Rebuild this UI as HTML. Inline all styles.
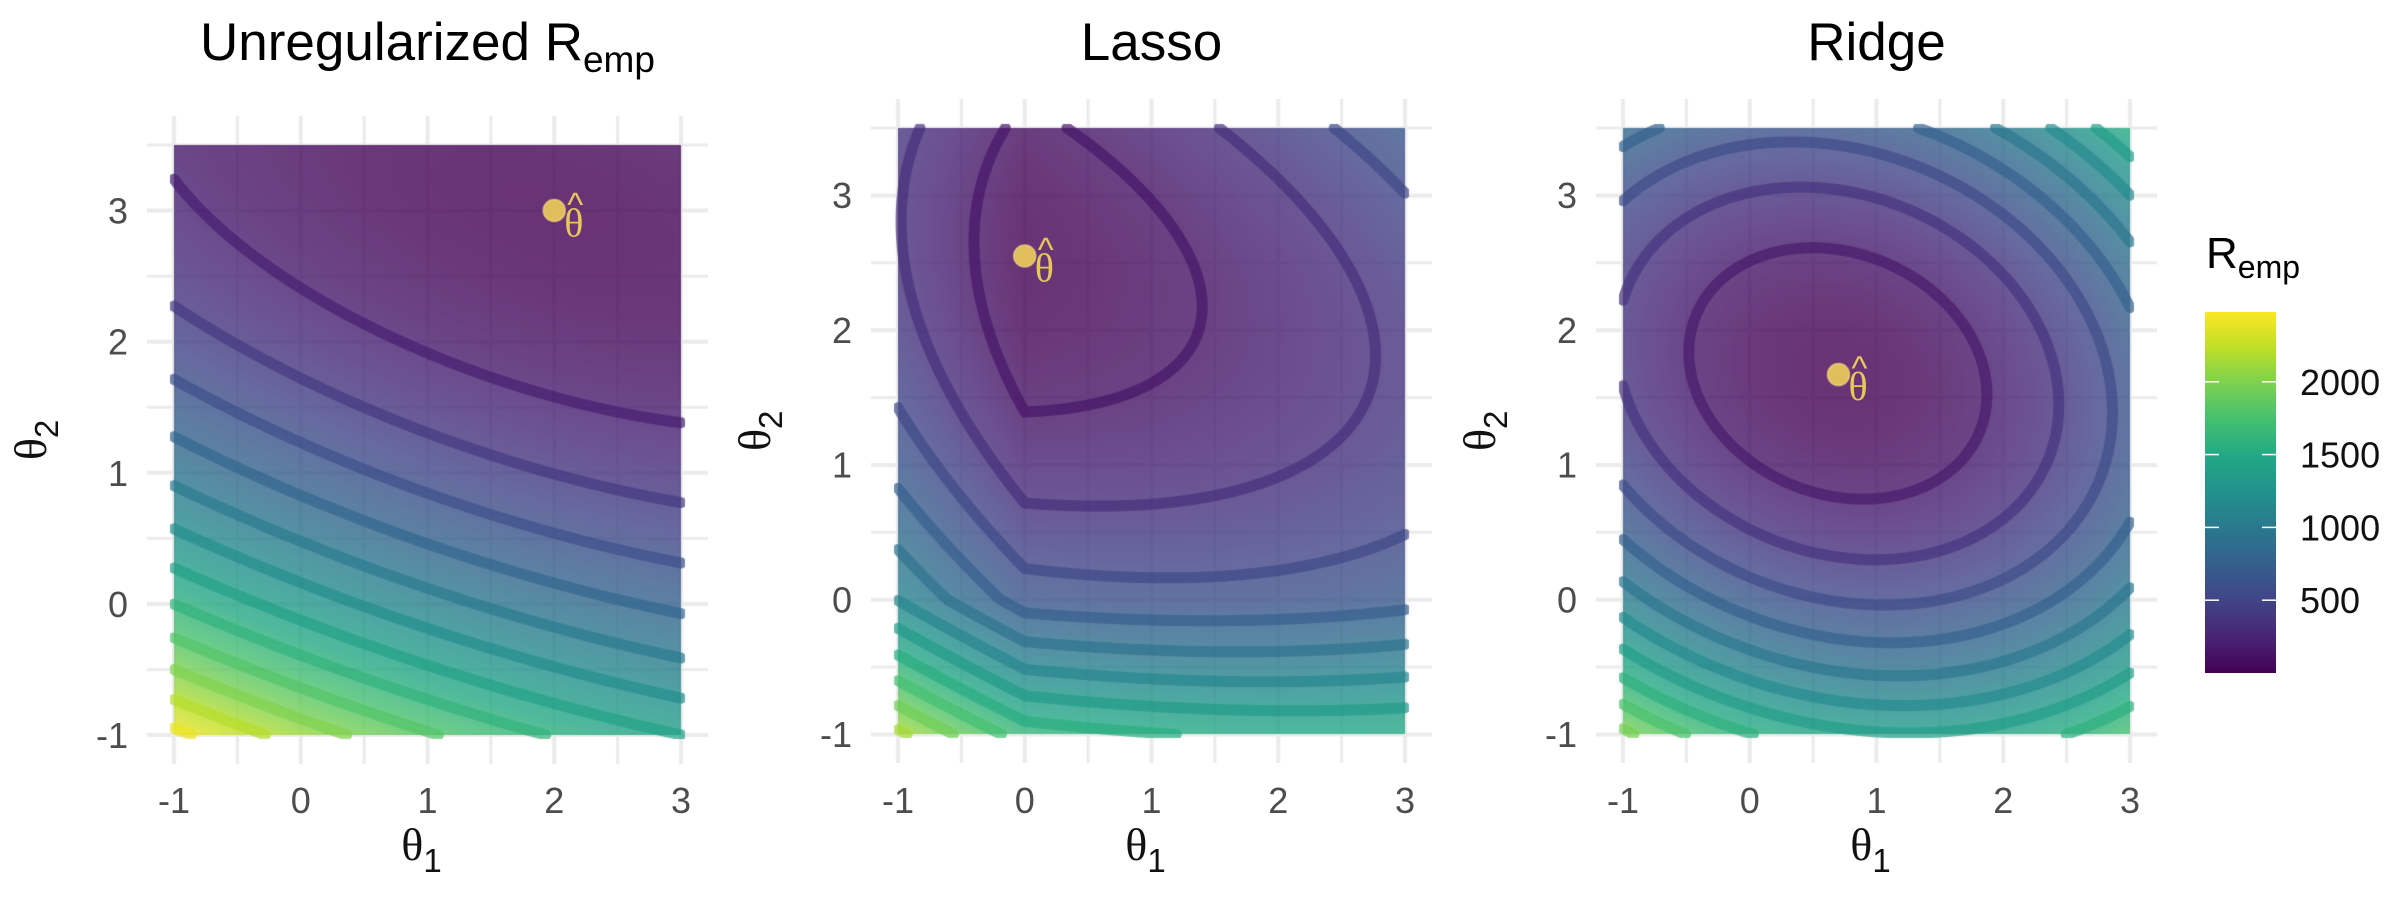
<!DOCTYPE html>
<html><head><meta charset="utf-8"><style>
html,body{margin:0;padding:0;background:#fff;}
#wrap{position:relative;width:2400px;height:900px;overflow:hidden;}
canvas{position:absolute;}
svg{position:absolute;left:0;top:0;}
</style></head><body>
<div id="wrap">
<canvas id="c0"></canvas>
<canvas id="c1"></canvas>
<canvas id="c2"></canvas>
<svg id="txt" width="2400" height="900"></svg>
</div>
<script>
// ---- data ----
const panelNames = ["Unregularized", "Lasso", "Ridge"];
const quadA = [25.8];          // coefficient of (θ1-c1)^2
const quadB = [52.7];          // coefficient of (θ1-c1)(θ2-c2)
const quadC = [99.1];          // coefficient of (θ2-c2)^2
const lsCenter = [2, 3];       // unregularized minimiser
const lassoLambda = [0, 195, 0];
const ridgeMu = [0, 0, 98.5];
const hatX = [2, 0, 0.7];
const hatY = [3, 2.55, 1.67];
const contourLevels = [200,400,600,800,1000,1200,1400,1600,1800,2000,2200,2400,2600,2800,3000,3200];
const xTicks = [-1, 0, 1, 2, 3];
const yTicks = [-1, 0, 1, 2, 3];
const legendTicks = [500, 1000, 1500, 2000];
const legendMax = [2479];
// ---- layout ----
const px0 = [174, 898, 1623], px1 = [681, 1405, 2130];
const py3 = [210.5, 195, 195], pym1 = [735, 734, 734];
const XMIN=-1, XMAX=3, YMIN=-1, YMAX=3.5, EXPX=27, EXPY=29;

const vir = ["#440154","#482475","#414487","#355f8d","#2a788e","#21918c","#22a884","#44bf70","#7ad151","#bddf26","#fde725"];
function hex(h){return [parseInt(h.substr(1,2),16),parseInt(h.substr(3,2),16),parseInt(h.substr(5,2),16)];}
const virRGB = vir.map(hex);
function viridis(t){t=Math.max(0,Math.min(1,t));const s=t*(virRGB.length-1);const i=Math.min(virRGB.length-2,Math.floor(s));const f=s-i;
 return virRGB[i].map((c,k)=>Math.round(c+(virRGB[i+1][k]-c)*f));}

function risk(p,t1,t2){const dx=t1-lsCenter[0],dy=t2-lsCenter[1];
 let v=quadA[0]*dx*dx+quadB[0]*dx*dy+quadC[0]*dy*dy;
 v+=lassoLambda[p]*(Math.abs(t1)+Math.abs(t2));
 v+=ridgeMu[p]*(t1*t1+t2*t2);return v;}

const svg=document.getElementById('txt');const NS="http://www.w3.org/2000/svg";
function T(x,y,str,attrs){const e=document.createElementNS(NS,'text');e.setAttribute('x',x);e.setAttribute('y',y);
 for(const k in attrs)e.setAttribute(k,attrs[k]);e.textContent=str;svg.appendChild(e);return e;}

for(let p=0;p<3;p++){
 const sx=(px1[p]-px0[p])/(XMAX-XMIN), sy=(pym1[p]-py3[p])/4;
 const X=v=>px0[p]+(v-XMIN)*sx, Y=v=>pym1[p]-(v-YMIN)*sy;
 const left=X(XMIN)-EXPX, top=Y(YMAX)-EXPY;
 const W=Math.round(X(XMAX)-X(XMIN)+2*EXPX), H=Math.round(Y(YMIN)-Y(YMAX)+2*EXPY);
 const cv=document.getElementById('c'+p);cv.width=W;cv.height=H;cv.style.left=left+'px';cv.style.top=top+'px';
 const ctx=cv.getContext('2d');
 const lx=v=>X(v)-left, ly=v=>Y(v)-top;
 // grid
 ctx.strokeStyle="#ebebeb";
 for(let g=-1;g<=3.001;g+=0.5){ctx.lineWidth=(Math.abs(g-Math.round(g))<1e-6)?4:3;ctx.beginPath();ctx.moveTo(lx(g),0);ctx.lineTo(lx(g),H);ctx.stroke();
  ctx.beginPath();ctx.moveTo(0,ly(g));ctx.lineTo(W,ly(g));ctx.stroke();}
 ctx.lineWidth=3;ctx.beginPath();ctx.moveTo(0,ly(3.5));ctx.lineTo(W,ly(3.5));ctx.stroke();
 let vmin=1e9;for(let a=XMIN;a<=XMAX;a+=0.02)for(let b=YMIN;b<=YMAX;b+=0.02)vmin=Math.min(vmin,risk(p,a,b));
 // fill
 const fx0=Math.round(lx(XMIN)),fx1=Math.round(lx(XMAX)),fy0=Math.round(ly(YMAX)),fy1=Math.round(ly(YMIN));
 const off=document.createElement('canvas');off.width=W;off.height=H;const oc=off.getContext('2d');
 const img=oc.createImageData(W,H);
 for(let yy=fy0;yy<fy1;yy++)for(let xx=fx0;xx<fx1;xx++){
  const t1=XMIN+(xx+0.5-lx(XMIN))/sx,t2=YMIN+(ly(YMIN)-yy-0.5)/sy;
  const c=viridis((risk(p,t1,t2)-vmin)/legendMax[0]);const i=(yy*W+xx)*4;
  img.data[i]=c[0];img.data[i+1]=c[1];img.data[i+2]=c[2];img.data[i+3]=255;}
 oc.putImageData(img,0,0);
 ctx.globalAlpha=0.8;ctx.drawImage(off,0,0);ctx.globalAlpha=1;
 // contours (marching squares)
 const st=0.02,nx=Math.round((XMAX-XMIN)/st),ny=Math.round((YMAX-YMIN)/st);
 const G=[];for(let i=0;i<=nx;i++){G[i]=[];for(let j=0;j<=ny;j++)G[i][j]=risk(p,XMIN+i*st,YMIN+j*st);}
 for(const L of contourLevels){
  const lc=document.createElement('canvas');lc.width=W;lc.height=H;const g=lc.getContext('2d');
  g.beginPath();g.rect(fx0-4,fy0-4,fx1-fx0+8,fy1-fy0+8);g.clip();
  const col=viridis((L-vmin)/legendMax[0]);g.strokeStyle=`rgb(${col[0]},${col[1]},${col[2]})`;
  g.lineWidth=11;g.lineCap='round';g.beginPath();let any=false;
  for(let i=0;i<nx;i++)for(let j=0;j<ny;j++){
   const v=[G[i][j],G[i+1][j],G[i+1][j+1],G[i][j+1]];
   const P=[[i,j],[i+1,j],[i+1,j+1],[i,j+1]];const pts=[];
   for(let e=0;e<4;e++){const a=v[e],b=v[(e+1)%4];if((a<L)!==(b<L)){const f=(L-a)/(b-a);const A=P[e],B=P[(e+1)%4];
     pts.push([XMIN+(A[0]+(B[0]-A[0])*f)*st,YMIN+(A[1]+(B[1]-A[1])*f)*st]);}}
   for(let k=0;k+1<pts.length;k+=2){g.moveTo(lx(pts[k][0]),ly(pts[k][1]));g.lineTo(lx(pts[k+1][0]),ly(pts[k+1][1]));any=true;}
  }
  if(any){g.stroke();ctx.globalAlpha=0.7;ctx.drawImage(lc,0,0);ctx.globalAlpha=1;}
 }
 // theta hat point
 ctx.fillStyle="rgba(238,205,90,0.9)";ctx.beginPath();ctx.arc(lx(hatX[p]),ly(hatY[p]),11,0,Math.PI*2);ctx.fill();
 ctx.strokeStyle="rgba(255,230,140,0.6)";ctx.lineWidth=1.5;ctx.stroke();
 const hx=X(hatX[p]),hy=Y(hatY[p]);
 const th=T(hx+10,hy+26,"θ",{"font-family":"Liberation Serif, DejaVu Serif, serif","font-size":"40","fill":"#e6c75a"});
 
 const ht=T(hx+13,hy+6,"^",{"font-family":"Liberation Sans, sans-serif","font-size":"34","fill":"#e6c75a"});
 
 // ticks
 for(const v of xTicks){const e=T(X(v),813,String(v),{"font-family":"Liberation Sans, sans-serif","font-size":"36","fill":"#4d4d4d","text-anchor":"middle"});
  }
 for(const v of yTicks){const e=T(px0[p]-46,Y(v)+13,String(v),{"font-family":"Liberation Sans, sans-serif","font-size":"36","fill":"#4d4d4d","text-anchor":"end"});
  }
 // axis titles
 const xt=T((px0[p]+px1[p])/2-6,860,"θ",{"font-family":"Liberation Serif, DejaVu Serif, serif","font-size":"46","fill":"#111","text-anchor":"middle"});
 const s1=document.createElementNS(NS,'tspan');s1.setAttribute('font-family','Liberation Sans, sans-serif');s1.setAttribute('font-size','33');s1.setAttribute('dy','12');s1.textContent='1';xt.appendChild(s1);
 
 const ycx=px0[p]-128,ycy=(Y(YMAX)+Y(YMIN))/2;
 const yt=T(ycx,ycy,"θ",{"font-family":"Liberation Serif, DejaVu Serif, serif","font-size":"46","fill":"#111","text-anchor":"middle","transform":`rotate(-90 ${ycx} ${ycy})`});
 const s2=document.createElementNS(NS,'tspan');s2.setAttribute('font-family','Liberation Sans, sans-serif');s2.setAttribute('font-size','33');s2.setAttribute('dy','12');s2.textContent='2';yt.appendChild(s2);
 
 // title
 const tt=T((px0[p]+px1[p])/2,60,panelNames[p],{"font-family":"Liberation Sans, sans-serif","font-size":"53","fill":"#000","text-anchor":"middle"});
 if(p===0){tt.textContent="Unregularized R";const s=document.createElementNS(NS,'tspan');s.setAttribute('font-size','37');s.setAttribute('dy','12');s.textContent='emp';tt.appendChild(s);}
 
}
// legend
(function(){
 const lx0=2205,lw=71,ly0=312,ly1=673;
 const defs=document.createElementNS(NS,'defs');const gr=document.createElementNS(NS,'linearGradient');
 gr.setAttribute('id','vg');gr.setAttribute('x1','0');gr.setAttribute('y1','1');gr.setAttribute('x2','0');gr.setAttribute('y2','0');
 vir.forEach((c,i)=>{const s=document.createElementNS(NS,'stop');s.setAttribute('offset',i/(vir.length-1));s.setAttribute('stop-color',c);gr.appendChild(s);});
 defs.appendChild(gr);svg.appendChild(defs);
 const r=document.createElementNS(NS,'rect');r.setAttribute('x',lx0);r.setAttribute('y',ly0);r.setAttribute('width',lw);r.setAttribute('height',ly1-ly0);r.setAttribute('fill','url(#vg)');
 svg.appendChild(r);
 const LY=v=>ly1-(v/legendMax[0])*(ly1-ly0);
 for(const v of legendTicks){
  for(const x of [lx0,lx0+lw-14]){const l=document.createElementNS(NS,'line');l.setAttribute('x1',x);l.setAttribute('x2',x+14);l.setAttribute('y1',LY(v));l.setAttribute('y2',LY(v));l.setAttribute('stroke','#fff');l.setAttribute('stroke-width','1.5');
   svg.appendChild(l);}
  const e=T(2300,LY(v)+13,String(v),{"font-family":"Liberation Sans, sans-serif","font-size":"36","fill":"#111"});
  }
 const lt=T(2206,268,"R",{"font-family":"Liberation Sans, sans-serif","font-size":"44","fill":"#000"});
 const s=document.createElementNS(NS,'tspan');s.setAttribute('font-size','32');s.setAttribute('dy','10');s.textContent='emp';lt.appendChild(s);
 
})();
</script>
</body></html>
